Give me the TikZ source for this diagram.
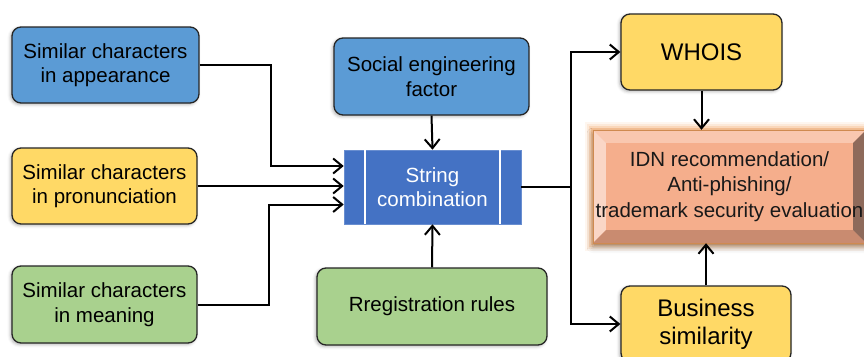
\documentclass[tikz,border=0pt]{standalone}
\usepackage{fontspec}
\setmainfont{Liberation Sans}
\usetikzlibrary{arrows.meta,shadows.blur,calc}

\definecolor{boxblue}{HTML}{5B9BD5}
\definecolor{procblue}{HTML}{4472C4}
\definecolor{boxyellow}{HTML}{FFD966}
\definecolor{boxgreen}{HTML}{A9D18E}
\definecolor{edgegray}{HTML}{262626}
\definecolor{evalface}{HTML}{F5AE8C}
\definecolor{evaltop}{HTML}{F9C7AF}
\definecolor{evalleft}{HTML}{FAD6C6}
\definecolor{evalbottom}{HTML}{C98B70}
\definecolor{evalright}{HTML}{8E6A5B}
\definecolor{evalglow}{HTML}{F4A25E}

\tikzset{
  box/.style={draw=edgegray, line width=1.3pt, rounded corners=9pt,
    blur shadow={shadow xshift=-1.5pt, shadow yshift=-1.5pt,
                 shadow blur radius=3pt, shadow opacity=30},
    align=center, inner sep=0pt, text=black,
    font=\fontsize{20.5}{24.5}\selectfont},
  bigbox/.style={box, font=\fontsize{24}{28}\selectfont},
  procbox/.style={fill=procblue, draw=procblue!80!white, line width=0.6pt,
    align=center, inner sep=0pt, text=white,
    font=\fontsize{20.5}{24.5}\selectfont},
  arr/.style={line width=2pt, draw=black,
    -{Straight Barb[length=9pt,width=15pt]}},
  link/.style={line width=2pt, draw=black},
}

\begin{document}
\begin{tikzpicture}[x=1pt,y=-1pt]
\useasboundingbox (0,0) rectangle (864,356);

% input boxes on the left
\node[box, fill=boxblue, minimum width=187pt, minimum height=76pt] (A) at (105.5,65)
  {Similar characters\\in appearance};
\node[box, fill=boxyellow, minimum width=185pt, minimum height=76pt] (B) at (104.5,186)
  {Similar characters\\in pronunciation};
\node[box, fill=boxgreen, minimum width=185pt, minimum height=77pt] (C) at (104.5,304.5)
  {Similar characters\\in meaning};

% top and bottom inputs
\node[box, fill=boxblue, minimum width=195pt, minimum height=77pt] (D) at (431.5,76.5)
  {Social engineering\\factor};
\node[box, fill=boxgreen, minimum width=230pt, minimum height=77pt] (F) at (432,306.5)
  {Rregistration rules};

% central process box with its two side bars
\node[procbox, minimum width=177pt, minimum height=74pt] (E) at (432.5,187)
  {String\\combination};
\draw[white, line width=1.5pt] ([xshift=21.5pt]E.north west) -- ([xshift=21.5pt]E.south west);
\draw[white, line width=1.5pt] ([xshift=-21.5pt]E.north east) -- ([xshift=-21.5pt]E.south east);

% outputs on the right
\node[bigbox, fill=boxyellow, minimum width=161pt, minimum height=76pt] (G) at (701.5,52)
  {WHOIS};
\node[bigbox, fill=boxyellow, minimum width=170pt, minimum height=76pt] (I) at (706,324)
  {Business\\similarity};

% bevelled evaluation box with an orange glow
\foreach \w/\o in {16/0.10, 12/0.15, 8/0.25, 4/0.4}
  \draw[evalglow, line width=\w pt, opacity=\o] (593,130) rectangle (866,243);
\fill[evalface, blur shadow={shadow xshift=0pt, shadow yshift=-4pt,
      shadow blur radius=6pt, shadow opacity=35}] (593,130) rectangle (866,243);
\fill[evaltop]    (593,130) -- (866,130) -- (853,143) -- (606,143) -- cycle;
\fill[evalleft]   (593,130) -- (606,143) -- (606,230) -- (593,243) -- cycle;
\fill[evalbottom] (593,243) -- (606,230) -- (853,230) -- (866,243) -- cycle;
\fill[evalright]  (866,130) -- (866,243) -- (853,230) -- (853,143) -- cycle;
\fill[evalface]   (606,143) rectangle (853,230);
\draw[evalglow!85!black, line width=0.8pt] (593,130) rectangle (866,243);
\node[align=center, inner sep=0pt, minimum width=273pt, minimum height=113pt,
      text=black!90, font=\fontsize{20.5}{25.5}\selectfont] (H) at (729.5,186.5)
  {IDN recommendation/\\Anti-phishing/\\trademark security evaluation};

% entry points on the left side of the process box
\coordinate (inA) at ([yshift=21pt]E.west);
\coordinate (inC) at ([yshift=-17.5pt]E.west);

% connectors into the process box
\draw[arr] (A.east) -- ++(71,0) |- (inA);
\draw[arr] (B.east) -- (B.east -| E.west);
\draw[arr] (C.east) -- ++(71,0) |- (inC);
\draw[arr] (D.south) -- (E.north);
\draw[arr] (F.north) -- (E.south);

% connectors out of the process box
\draw[link] (E.east) -- ++(50,0) coordinate (split);
\draw[arr] (split) |- (G.west);
\draw[arr] (split) |- (I.west);
\draw[arr] (G.south) -- (G.south |- H.north);
\draw[arr] (I.north) -- (I.north |- H.south);
\end{tikzpicture}
\end{document}
